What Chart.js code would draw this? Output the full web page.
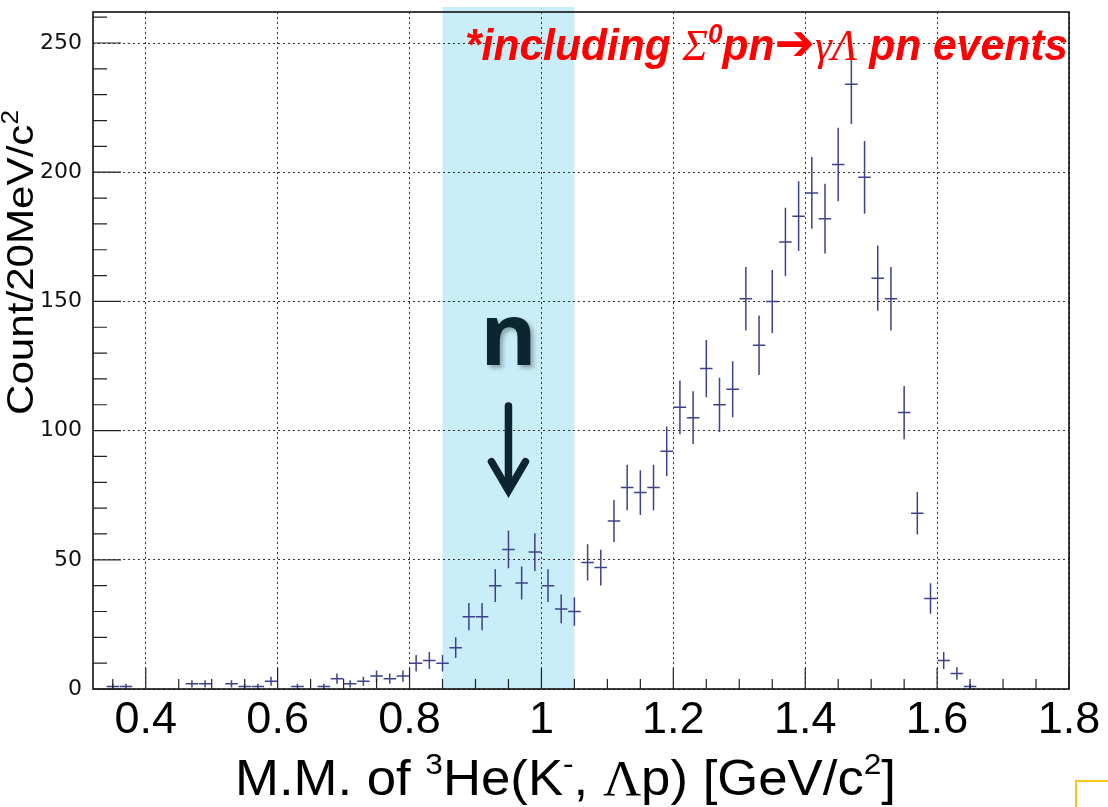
<!DOCTYPE html>
<html><head><meta charset="utf-8">
<script src="https://cdn.jsdelivr.net/npm/chart.js@4.4.0/dist/chart.umd.min.js"></script>
<style>html,body{margin:0;padding:0;background:#fff;}#wrap{width:1108px;height:807px;position:relative;}</style>
</head><body><div id="wrap"><canvas id="c" width="1108" height="807"></canvas></div>
<script>
// ---- data (bin centres in GeV/c^2, counts per 20 MeV/c^2, statistical errors) ----
const binCenters = [0.35,0.37,0.47,0.49,0.53,0.55,0.57,0.59,0.63,0.67,0.69,0.71,0.73,0.75,0.77,0.79,
  0.81,0.83,0.85,0.87,0.89,0.91,0.93,0.95,0.97,0.99,1.01,1.03,1.05,1.07,1.09,1.11,1.13,1.15,1.17,1.19,
  1.21,1.23,1.25,1.27,1.29,1.31,1.33,1.35,1.37,1.39,1.41,1.43,1.45,1.47,1.49,1.51,1.53,1.55,1.57,1.59,
  1.61,1.63,1.65];
const counts = [1,1,2,2,2,1,1,3,1,1,4,2,3,5,4,5,
  10,11,10,16,28,28,40,54,41,53,40,31,30,49,47,65,78,76,78,92,
  109,105,124,110,116,151,133,150,173,183,192,182,203,234,198,159,151,107,68,35,
  11,6,1];
const errors = [1,1,1.4,1.4,1.4,1,1,1.7,1,1,2,1.4,1.7,2.2,2,2.2,
  3.2,3.3,3.2,4,5.3,5.3,6.3,7.3,6.4,7.3,6.3,5.6,5.5,7,6.9,8.1,8.8,8.7,8.8,9.6,
  10.4,10.2,11.1,10.5,10.8,12.3,11.5,12.2,13.2,13.5,13.9,13.5,14.2,15.3,14.1,12.6,12.3,10.3,8.2,5.9,
  3.3,2.4,1];
const xTickValues = [0.4,0.6,0.8,1.0,1.2,1.4,1.6,1.8];
const xTickLabels = ['0.4','0.6','0.8','1','1.2','1.4','1.6','1.8'];
const yTickValues = [0,50,100,150,200,250];
const yTickLabels = ['0','50','100','150','200','250'];
const bandRange = [0.85, 1.05];
const binHalfWidth = 0.0095;

const X_MIN = 0.32, X_MAX = 1.8, Y_MIN = 0, Y_MAX = 262;

// ---- helpers ----
function drawRich(ctx, segs, x, y, targetWidth, rotate) {
  let w = 0;
  segs.forEach(s => { ctx.font = s.font; s.w = ctx.measureText(s.t).width; w += s.w; });
  const k = targetWidth ? targetWidth / w : 1;
  ctx.save();
  ctx.translate(x, y);
  if (rotate) ctx.rotate(rotate);
  ctx.scale(k, 1);
  ctx.textBaseline = 'alphabetic';
  ctx.textAlign = 'left';
  let cx = 0;
  segs.forEach(s => { ctx.font = s.font; ctx.fillStyle = s.color || '#000'; ctx.fillText(s.t, cx, s.dy || 0); cx += s.w; });
  ctx.restore();
}

const bandPlugin = {
  id: 'band',
  beforeDraw(chart) {
    const {ctx, chartArea, scales: {x}} = chart;
    const x1 = x.getPixelForValue(bandRange[0]), x2 = x.getPixelForValue(bandRange[1]);
    ctx.save();
    ctx.fillStyle = '#c9edf9';
    ctx.fillRect(x1, chartArea.top - 5, x2 - x1, chartArea.bottom - chartArea.top + 5);
    ctx.restore();
  }
};

const histPlugin = {
  id: 'hist',
  afterDatasetsDraw(chart) {
    const {ctx, chartArea, scales: {x, y}} = chart;
    ctx.save();
    ctx.beginPath();
    ctx.rect(chartArea.left, chartArea.top - 6, chartArea.right - chartArea.left, chartArea.bottom - chartArea.top + 6);
    ctx.clip();
    ctx.strokeStyle = '#3e418b';
    ctx.lineWidth = 1.5;
    binCenters.forEach((c, i) => {
      const px = x.getPixelForValue(c), py = y.getPixelForValue(counts[i]);
      const xl = x.getPixelForValue(c - binHalfWidth), xr = x.getPixelForValue(c + binHalfWidth);
      const yt = y.getPixelForValue(counts[i] + errors[i]);
      const yb = y.getPixelForValue(Math.max(0, counts[i] - errors[i]));
      ctx.beginPath();
      ctx.moveTo(xl, py); ctx.lineTo(xr, py);
      ctx.moveTo(px, yt); ctx.lineTo(px, yb);
      ctx.stroke();
    });
    ctx.restore();

    // annotation: "n" with arrow at the neutron mass
    const nx = x.getPixelForValue(0.95);
    ctx.save();
    ctx.font = 'bold 86px "Open Sans", "Liberation Sans", sans-serif';
    ctx.textAlign = 'center';
    ctx.textBaseline = 'alphabetic';
    ctx.shadowColor = 'rgba(0,0,0,0.3)';
    ctx.shadowOffsetX = 3; ctx.shadowOffsetY = 3; ctx.shadowBlur = 4;
    ctx.fillStyle = '#0b2631';
    ctx.fillText('n', nx, y.getPixelForValue(125.5));
    ctx.restore();

    ctx.save();
    ctx.strokeStyle = '#0b2631';
    ctx.lineWidth = 7.5;
    ctx.lineCap = 'round';
    ctx.lineJoin = 'miter';
    const top = y.getPixelForValue(109.5), tip = y.getPixelForValue(76);
    ctx.beginPath();
    ctx.moveTo(nx, top); ctx.lineTo(nx, tip - 4);
    ctx.stroke();
    ctx.beginPath();
    ctx.moveTo(nx - 17, tip - 31); ctx.lineTo(nx, tip - 2); ctx.lineTo(nx + 17, tip - 31);
    ctx.stroke();
    ctx.restore();

    // red note
    const red = '#ff0000';
    drawRich(ctx, [
      {t: '*including ', font: 'italic bold 44px "Liberation Sans", Arial, sans-serif', color: red},
      {t: 'Σ', font: 'italic 44px "Liberation Serif", "Times New Roman", serif', color: red},
      {t: '0', font: 'italic bold 27px "Liberation Sans", Arial, sans-serif', color: red, dy: -17},
      {t: 'pn', font: 'italic bold 44px "Liberation Sans", Arial, sans-serif', color: red},
      {t: '➔', font: 'bold 50px "DejaVu Sans", sans-serif', color: red},
      {t: 'γΛ', font: 'italic 44px "Liberation Serif", "Times New Roman", serif', color: red},
      {t: ' pn events', font: 'italic bold 44px "Liberation Sans", Arial, sans-serif', color: red}
    ], 465, 60, 603);
  }
};

const framePlugin = {
  id: 'frame',
  afterDraw(chart) {
    const {ctx, chartArea: a, scales: {x, y}} = chart;
    ctx.save();
    ctx.strokeStyle = '#000';
    ctx.lineWidth = 1.5;
    ctx.strokeRect(a.left, a.top, a.right - a.left, a.bottom - a.top);
    ctx.lineWidth = 1.2;
    ctx.strokeStyle = '#222';
    ctx.beginPath();
    for (let v = 0; v <= 260; v += 10) {
      const py = y.getPixelForValue(v);
      const len = (v % 50 === 0) ? 28 : 14;
      ctx.moveTo(a.left, py); ctx.lineTo(a.left + len, py);
    }
    for (let k = 7; k <= 36; k++) {
      const v = k * 0.05;
      const px = x.getPixelForValue(v);
      const len = (k % 4 === 0) ? 21 : 10;
      ctx.moveTo(px, a.bottom); ctx.lineTo(px, a.bottom - len);
    }
    ctx.stroke();
    ctx.restore();

    // axis titles
    drawRich(ctx, [
      {t: 'M.M. of ', font: '50px "Liberation Sans", Arial, sans-serif'},
      {t: '3', font: '30px "Liberation Sans", Arial, sans-serif', dy: -21},
      {t: 'He(K', font: '50px "Liberation Sans", Arial, sans-serif'},
      {t: '-', font: '30px "Liberation Sans", Arial, sans-serif', dy: -21},
      {t: ', ', font: '50px "Liberation Sans", Arial, sans-serif'},
      {t: 'Λ', font: '50px "Liberation Serif", "Times New Roman", serif'},
      {t: 'p) [GeV/c', font: '50px "Liberation Sans", Arial, sans-serif'},
      {t: '2', font: '30px "Liberation Sans", Arial, sans-serif', dy: -21},
      {t: ']', font: '50px "Liberation Sans", Arial, sans-serif'}
    ], 235, 795, 661);

    drawRich(ctx, [
      {t: 'Count/20MeV/c', font: '37px "Liberation Sans", Arial, sans-serif'},
      {t: '2', font: '23px "Liberation Sans", Arial, sans-serif', dy: -15}
    ], 33, 415, 305, -Math.PI / 2);

    // small orange box fragment at the corner
    ctx.save();
    ctx.strokeStyle = '#f7c614';
    ctx.lineWidth = 2;
    ctx.beginPath();
    ctx.moveTo(1076, 807); ctx.lineTo(1076, 781); ctx.lineTo(1108, 781);
    ctx.stroke();
    ctx.restore();
  }
};

const gridStyle = {color: '#333', lineWidth: 1, drawTicks: false, drawOnChartArea: true};

new Chart(document.getElementById('c'), {
  type: 'scatter',
  data: {datasets: [{data: binCenters.map((c, i) => ({x: c, y: counts[i]})), pointRadius: 0, showLine: false}]},
  options: {
    responsive: false,
    animation: false,
    events: [],
    layout: {padding: {left: 0, top: 12, right: 39, bottom: 0}},
    plugins: {legend: {display: false}, tooltip: {enabled: false}},
    scales: {
      x: {
        type: 'linear', min: X_MIN, max: X_MAX,
        afterFit(s) { s.height = 118; s.paddingLeft = 0; s.paddingRight = 0; s.paddingTop = 0; s.paddingBottom = 0; },
        afterBuildTicks(s) { s.ticks = xTickValues.map(v => ({value: v})); },
        ticks: {
          autoSkip: false, maxRotation: 0, padding: 5, color: '#000',
          font: {family: '"Liberation Sans", Arial, sans-serif', size: 45},
          callback: (v) => { const i = xTickValues.findIndex(t => Math.abs(t - v) < 1e-6); return i >= 0 ? xTickLabels[i] : ''; }
        },
        grid: gridStyle,
        border: {display: false, dash: [2, 3]}
      },
      y: {
        min: Y_MIN, max: Y_MAX,
        afterFit(s) { s.width = 93; s.paddingTop = 0; s.paddingBottom = 0; s.paddingLeft = 0; s.paddingRight = 0; },
        afterBuildTicks(s) { s.ticks = yTickValues.map(v => ({value: v})); },
        ticks: {
          autoSkip: false, padding: 11, color: '#111',
          font: {family: '"DejaVu Sans", Verdana, sans-serif', size: 22},
          callback: (v) => { const i = yTickValues.indexOf(v); return i >= 0 ? yTickLabels[i] : ''; }
        },
        grid: gridStyle,
        border: {display: false, dash: [2, 3]}
      }
    }
  },
  plugins: [bandPlugin, histPlugin, framePlugin]
});
</script>
</body></html>
